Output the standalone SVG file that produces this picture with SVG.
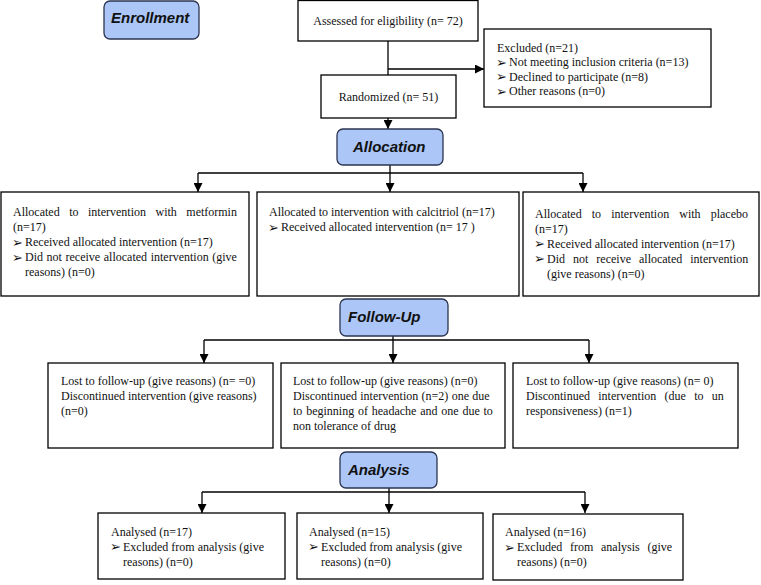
<svg xmlns="http://www.w3.org/2000/svg" width="761" height="585" viewBox="0 0 761 585">
<defs>
<marker id="arr" viewBox="0 0 10 10" refX="10" refY="5" markerWidth="9" markerHeight="9" markerUnits="userSpaceOnUse" orient="auto">
<path d="M0,0 L10,5 L0,10 Z" fill="#000"/>
</marker>
<style>
.box{fill:#fff;stroke:#000;stroke-width:1.3}
.hd{fill:#abc6f7;stroke:#2b3550;stroke-width:1.3}
.ht{font-family:"Liberation Sans",Arial,sans-serif;font-weight:bold;font-style:italic;font-size:15px;fill:#111}
.t{font-family:"Liberation Serif","Times New Roman",serif;font-size:12px;fill:#111}
.b{font-family:"DejaVu Sans",sans-serif;font-size:13px;fill:#111}
.c{fill:none;stroke:#000;stroke-width:1.3}
</style>
</defs>
<rect width="761" height="585" fill="#fff"/>

<g id="connectors">
<path class="c" d="M388,41 V75"/>
<path class="c" d="M388,69 H484" marker-end="url(#arr)"/>
<path class="c" d="M388,118 V129" marker-end="url(#arr)"/>
<path class="c" d="M390,165 V192" marker-end="url(#arr)"/>
<path class="c" d="M198,173 H583"/>
<path class="c" d="M198,173 V192" marker-end="url(#arr)"/>
<path class="c" d="M583,173 V192" marker-end="url(#arr)"/>
<path class="c" d="M393,336 V363" marker-end="url(#arr)"/>
<path class="c" d="M204,340 H589"/>
<path class="c" d="M204,340 V363" marker-end="url(#arr)"/>
<path class="c" d="M589,340 V363" marker-end="url(#arr)"/>
<path class="c" d="M389,488 V513" marker-end="url(#arr)"/>
<path class="c" d="M202,492 H585"/>
<path class="c" d="M202,492 V513" marker-end="url(#arr)"/>
<path class="c" d="M585,492 V513" marker-end="url(#arr)"/>
</g>

<g id="enrollment">
<rect class="hd" x="104" y="1" width="95" height="38" rx="6"/>
<text class="ht" x="111" y="23" font-size="14">Enrollment</text>
</g>

<g id="assessed">
<rect class="box" x="298" y="0.5" width="180" height="40.5"/>
<text class="t" x="388" y="25" text-anchor="middle">Assessed for eligibility (n= 72)</text>
</g>

<g id="excluded">
<rect class="box" x="484" y="29" width="227" height="78"/>
<text class="t" x="497" y="51.5">Excluded (n=21)</text>
<text class="b" x="496" y="66.5">➢</text><text class="t" x="509" y="66">Not meeting inclusion criteria (n=13)</text>
<text class="b" x="496" y="81">➢</text><text class="t" x="509" y="80.5">Declined to participate (n=8)</text>
<text class="b" x="496" y="95.5">➢</text><text class="t" x="509" y="95">Other reasons (n=0)</text>
</g>

<g id="randomized">
<rect class="box" x="321" y="75" width="135" height="43"/>
<text class="t" x="388.5" y="101" text-anchor="middle">Randomized (n= 51)</text>
</g>

<g id="allocation">
<rect class="hd" x="337" y="129" width="106" height="36" rx="6"/>
<text class="ht" x="353" y="152">Allocation</text>
</g>

<g id="alloc-metformin">
<rect class="box" x="1" y="192" width="248" height="104"/>
<text class="t" x="13" y="216" word-spacing="6.5">Allocated to intervention with metformin</text>
<text class="t" x="13" y="231">(n=17)</text>
<text class="b" x="12" y="246.5">➢</text><text class="t" x="25" y="246">Received allocated intervention (n=17)</text>
<text class="b" x="12" y="261.5">➢</text><text class="t" x="25" y="261" word-spacing="0.6">Did not receive allocated intervention (give</text>
<text class="t" x="25" y="276">reasons) (n=0)</text>
</g>

<g id="alloc-calcitriol">
<rect class="box" x="257" y="192" width="262" height="104"/>
<text class="t" x="269" y="216">Allocated to intervention with calcitriol (n=17)</text>
<text class="b" x="268" y="231.5">➢</text><text class="t" x="281" y="231">Received allocated intervention (n= 17 )</text>
</g>

<g id="alloc-placebo">
<rect class="box" x="523" y="192" width="236" height="104"/>
<text class="t" x="535" y="217.5" word-spacing="7.1">Allocated to intervention with placebo</text>
<text class="t" x="535" y="232.5">(n=17)</text>
<text class="b" x="534" y="248">➢</text><text class="t" x="547" y="247.5">Received allocated intervention (n=17)</text>
<text class="b" x="534" y="263">➢</text><text class="t" x="547" y="262.5" word-spacing="5">Did not receive allocated intervention</text>
<text class="t" x="547" y="277.5">(give reasons) (n=0)</text>
</g>

<g id="followup">
<rect class="hd" x="340" y="299" width="108" height="37" rx="6"/>
<text class="ht" x="348" y="322">Follow-Up</text>
</g>

<g id="fu-metformin">
<rect class="box" x="48" y="363" width="225" height="85"/>
<text class="t" x="61" y="385">Lost to follow-up (give reasons) (n= =0)</text>
<text class="t" x="61" y="400">Discontinued intervention (give reasons)</text>
<text class="t" x="61" y="415">(n=0)</text>
</g>

<g id="fu-calcitriol">
<rect class="box" x="281" y="363" width="224" height="85"/>
<text class="t" x="293" y="385">Lost to follow-up (give reasons) (n=0)</text>
<text class="t" x="293" y="400" word-spacing="0.3">Discontinued intervention (n=2) one due</text>
<text class="t" x="293" y="415" word-spacing="0.8">to beginning of headache and one due to</text>
<text class="t" x="293" y="430">non tolerance of drug</text>
</g>

<g id="fu-placebo">
<rect class="box" x="513" y="363" width="225" height="85"/>
<text class="t" x="526" y="385">Lost to follow-up (give reasons) (n= 0)</text>
<text class="t" x="526" y="400" word-spacing="5.3">Discontinued intervention (due to un</text>
<text class="t" x="526" y="415">responsiveness) (n=1)</text>
</g>

<g id="analysis">
<rect class="hd" x="340" y="452" width="97" height="36" rx="6"/>
<text class="ht" x="348" y="475">Analysis</text>
</g>

<g id="an-metformin">
<rect class="box" x="98" y="513" width="187" height="66"/>
<text class="t" x="111" y="535.5">Analysed (n=17)</text>
<text class="b" x="110" y="551">➢</text><text class="t" x="123" y="550.5">Excluded from analysis (give</text>
<text class="t" x="123" y="565.5">reasons) (n=0)</text>
</g>

<g id="an-calcitriol">
<rect class="box" x="297" y="513" width="186" height="66"/>
<text class="t" x="309" y="535.5">Analysed (n=15)</text>
<text class="b" x="308" y="551">➢</text><text class="t" x="321" y="550.5">Excluded from analysis (give</text>
<text class="t" x="321" y="565.5">reasons) (n=0)</text>
</g>

<g id="an-placebo">
<rect class="box" x="493" y="514" width="190" height="66"/>
<text class="t" x="505" y="536">Analysed (n=16)</text>
<text class="b" x="504" y="551.5">➢</text><text class="t" x="517" y="551" word-spacing="4.7">Excluded from analysis (give</text>
<text class="t" x="517" y="566">reasons) (n=0)</text>
</g>
</svg>
